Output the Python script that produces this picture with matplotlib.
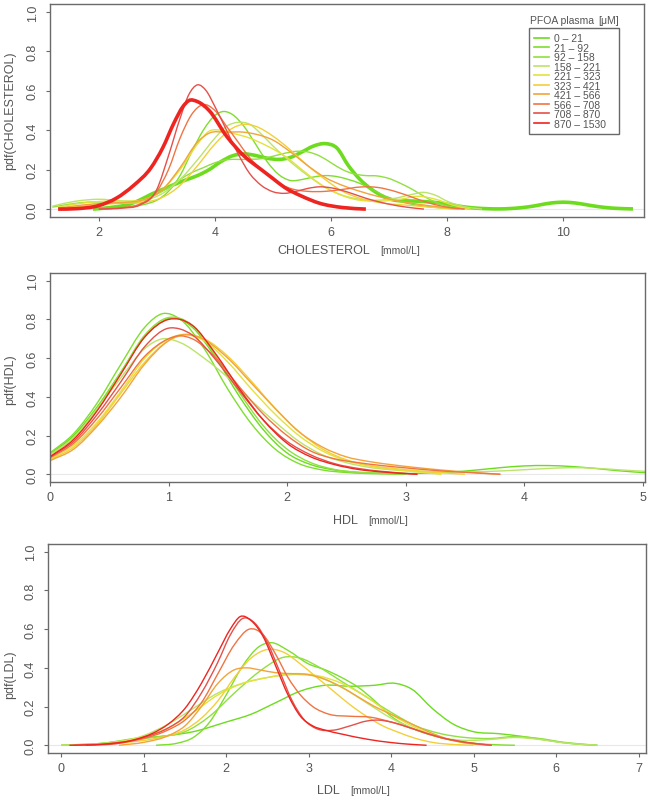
import numpy as np
import matplotlib
matplotlib.use("Agg")
from matplotlib import pyplot as plt
from matplotlib.lines import Line2D
from matplotlib.path import Path
from matplotlib.patches import PathPatch

plt.rcParams["font.family"] = ["Liberation Sans", "DejaVu Sans"]

# PFOA plasma groups and their colours (green -> red)
groups = ["0 – 21", "21 – 92", "92 – 158", "158 – 221", "221 – 323",
          "323 – 421", "421 – 566", "566 – 708", "708 – 870", "870 – 1530"]
colors = ["#6ddc1e", "#7ede2e", "#8fe040", "#bde36a", "#e4e23a",
          "#f2d038", "#f2a33a", "#f07443", "#e4504a", "#ee2420"]

# density curves, (x, pdf) per group
chol_curves = [
    [(1.9, 0), (2.1, .005), (2.3, .012), (2.5, .022), (2.7, .045), (2.9, .075), (3.1, .1), (3.3, .125),
     (3.5, .148), (3.7, .17), (3.9, .2), (4.1, .24), (4.3, .27), (4.5, .28), (4.7, .272), (4.9, .258),
     (5.1, .252), (5.3, .262), (5.5, .29), (5.7, .32), (5.9, .332), (6.1, .31), (6.3, .22), (6.5, .15),
     (6.7, .1), (6.9, .064), (7.1, .045), (7.3, .042), (7.5, .04), (7.7, .036), (7.9, .03), (8.1, .02),
     (8.3, .011), (8.5, .005), (8.7, .002), (8.9, .001), (9.1, .003), (9.3, .008), (9.5, .016), (9.7, .027),
     (9.9, .034), (10.1, .034), (10.3, .027), (10.5, .017), (10.7, .009), (10.9, .004), (11.2, .001)],
    [(1.9, 0), (2.2, .003), (2.5, .01), (2.8, .025), (3.0, .045), (3.2, .09), (3.4, .17), (3.6, .29),
     (3.8, .4), (4.0, .475), (4.15, .495), (4.3, .48), (4.5, .42), (4.7, .33), (4.9, .24), (5.1, .175),
     (5.3, .145), (5.5, .15), (5.7, .163), (5.9, .17), (6.1, .165), (6.3, .15), (6.5, .13), (6.7, .1),
     (6.9, .07), (7.1, .045), (7.3, .03), (7.6, .015), (7.9, .006), (8.2, 0)],
    [(1.2, .01), (1.5, .025), (1.8, .035), (2.1, .035), (2.4, .03), (2.7, .04), (3.0, .075), (3.2, .11),
     (3.4, .15), (3.6, .185), (3.8, .21), (4.0, .235), (4.2, .25), (4.5, .252), (4.8, .256), (5.0, .268),
     (5.2, .283), (5.4, .293), (5.6, .29), (5.8, .27), (6.0, .235), (6.2, .2), (6.4, .178), (6.6, .17),
     (6.8, .168), (7.0, .155), (7.2, .13), (7.4, .1), (7.6, .065), (7.8, .035), (8.0, .015), (8.4, 0)],
    [(1.2, .015), (1.6, .04), (2.0, .05), (2.4, .042), (2.8, .045), (3.1, .08), (3.4, .15), (3.7, .25),
     (4.0, .36), (4.2, .42), (4.4, .44), (4.6, .43), (4.8, .38), (5.0, .32), (5.3, .24), (5.6, .17),
     (5.9, .11), (6.2, .07), (6.5, .05), (6.8, .045), (7.1, .055), (7.4, .075), (7.6, .085), (7.8, .07),
     (8.0, .04), (8.3, .012), (8.6, 0)],
    [(1.3, .01), (1.7, .03), (2.1, .04), (2.5, .04), (2.8, .05), (3.1, .1), (3.4, .2), (3.7, .33),
     (3.9, .395), (4.1, .4), (4.3, .385), (4.6, .36), (4.9, .32), (5.2, .27), (5.5, .2), (5.8, .13),
     (6.1, .08), (6.4, .05), (6.8, .04), (7.2, .05), (7.5, .065), (7.8, .05), (8.1, .02), (8.4, 0)],
    [(1.4, .005), (1.9, .02), (2.4, .03), (2.8, .035), (3.1, .06), (3.4, .12), (3.7, .22), (4.0, .33),
     (4.3, .41), (4.5, .43), (4.7, .42), (5.0, .37), (5.3, .3), (5.6, .22), (5.9, .15), (6.2, .09),
     (6.5, .055), (6.9, .03), (7.3, .02), (7.8, .008), (8.2, 0)],
    [(1.3, .005), (1.7, .02), (2.1, .03), (2.5, .035), (2.8, .05), (3.1, .1), (3.4, .21), (3.7, .34),
     (3.9, .385), (4.2, .39), (4.5, .39), (4.7, .38), (5.0, .35), (5.3, .29), (5.6, .22), (5.9, .16),
     (6.2, .12), (6.5, .09), (6.8, .065), (7.1, .045), (7.5, .025), (7.9, .01), (8.3, 0)],
    [(2.0, 0), (2.4, .008), (2.7, .025), (3.0, .09), (3.2, .2), (3.4, .36), (3.6, .48), (3.8, .53),
     (4.0, .5), (4.2, .42), (4.4, .34), (4.6, .26), (4.8, .2), (5.0, .15), (5.3, .105), (5.6, .09),
     (5.9, .09), (6.2, .1), (6.5, .112), (6.8, .11), (7.1, .09), (7.4, .06), (7.7, .03), (8.0, .01), (8.3, 0)],
    [(2.0, 0), (2.4, .005), (2.7, .02), (3.0, .1), (3.2, .27), (3.4, .46), (3.55, .58), (3.7, .63),
     (3.85, .6), (4.0, .52), (4.2, .4), (4.4, .28), (4.6, .18), (4.8, .12), (5.0, .088), (5.2, .08),
     (5.4, .09), (5.6, .105), (5.8, .113), (6.0, .108), (6.3, .085), (6.6, .055), (7.0, .025), (7.3, .01), (7.6, 0)],
    [(1.3, 0), (1.6, .002), (2.0, .018), (2.3, .055), (2.6, .12), (2.9, .21), (3.1, .31), (3.3, .44),
     (3.45, .52), (3.55, .55), (3.7, .545), (3.9, .5), (4.2, .37), (4.5, .27), (4.8, .2), (5.0, .155),
     (5.2, .11), (5.5, .065), (5.8, .03), (6.2, .008), (6.6, 0)],
]

hdl_curves = [
    [(0, .105), (0.2, .2), (0.4, .35), (0.6, .53), (0.8, .71), (0.9, .77), (1.0, .805), (1.1, .8), (1.2, .76),
     (1.4, .6), (1.6, .4), (1.8, .23), (2.0, .11), (2.2, .05), (2.4, .022), (2.6, .01), (2.8, .006), (3.0, .004),
     (3.2, .006), (3.4, .012), (3.6, .022), (3.8, .034), (4.0, .043), (4.2, .045), (4.4, .04), (4.6, .03),
     (4.8, .018), (5.02, .008)],
    [(0, .11), (0.2, .21), (0.4, .37), (0.6, .57), (0.8, .76), (0.95, .83), (1.1, .8), (1.3, .65), (1.5, .44),
     (1.7, .26), (1.9, .13), (2.1, .055), (2.3, .022), (2.5, .009), (2.8, .002), (3.0, 0)],
    [(0, .1), (0.2, .19), (0.4, .34), (0.6, .53), (0.8, .72), (1.0, .81), (1.1, .805), (1.2, .77), (1.4, .61),
     (1.6, .42), (1.8, .25), (2.0, .13), (2.2, .06), (2.4, .025), (2.6, .01), (2.8, .004), (3.0, 0)],
    [(0, .1), (0.2, .19), (0.4, .34), (0.6, .5), (0.8, .65), (0.95, .7), (1.1, .68), (1.3, .6), (1.5, .5),
     (1.7, .38), (1.9, .27), (2.1, .17), (2.3, .1), (2.5, .06), (2.7, .035), (2.9, .022), (3.1, .016),
     (3.3, .013), (3.6, .013), (3.9, .02), (4.2, .03), (4.4, .034), (4.6, .031), (4.8, .023), (5.02, .015)],
    [(0, .08), (0.2, .15), (0.4, .27), (0.6, .43), (0.8, .6), (1.0, .7), (1.1, .72), (1.3, .69), (1.5, .58),
     (1.7, .44), (1.9, .31), (2.1, .2), (2.3, .12), (2.5, .07), (2.7, .042), (2.9, .025), (3.1, .012), (3.3, 0)],
    [(0, .075), (0.2, .14), (0.4, .26), (0.6, .42), (0.8, .58), (1.0, .69), (1.15, .72), (1.3, .7), (1.5, .61),
     (1.7, .48), (1.9, .34), (2.1, .22), (2.3, .13), (2.5, .075), (2.7, .045), (2.9, .03), (3.1, .018),
     (3.3, .008), (3.5, 0)],
    [(0, .07), (0.2, .13), (0.4, .25), (0.6, .4), (0.8, .57), (1.0, .69), (1.1, .72), (1.25, .71), (1.5, .6),
     (1.7, .47), (1.9, .34), (2.1, .22), (2.3, .14), (2.5, .09), (2.7, .065), (2.9, .048), (3.1, .034),
     (3.3, .022), (3.5, .012), (3.8, 0)],
    [(0, .085), (0.2, .16), (0.4, .29), (0.6, .45), (0.8, .61), (1.0, .7), (1.08, .715), (1.2, .7), (1.4, .6),
     (1.6, .45), (1.8, .31), (2.0, .2), (2.2, .12), (2.4, .08), (2.6, .06), (2.8, .045), (3.0, .033),
     (3.2, .022), (3.5, .01), (3.8, 0)],
    [(0, .09), (0.2, .17), (0.4, .31), (0.6, .48), (0.8, .66), (1.0, .755), (1.1, .75), (1.2, .72), (1.4, .59),
     (1.6, .43), (1.8, .28), (2.0, .17), (2.2, .1), (2.4, .055), (2.6, .03), (2.8, .015), (3.1, 0)],
    [(0, .09), (0.2, .18), (0.4, .33), (0.6, .52), (0.8, .71), (1.0, .8), (1.1, .8), (1.2, .77), (1.4, .62),
     (1.6, .44), (1.8, .28), (2.0, .16), (2.2, .09), (2.4, .05), (2.6, .025), (2.8, .012), (3.1, 0)],
]

ldl_curves = [
    [(0, 0), (0.5, .01), (0.9, .035), (1.3, .05), (1.6, .07), (2.0, .12), (2.3, .16), (2.6, .22), (2.9, .28),
     (3.2, .31), (3.5, .305), (3.8, .31), (4.05, .32), (4.25, .29), (4.5, .19), (4.75, .11), (5.0, .07),
     (5.3, .06), (5.6, .045), (5.9, .025), (6.2, .008), (6.5, 0)],
    [(1.15, 0), (1.4, .01), (1.6, .04), (1.8, .12), (2.0, .26), (2.2, .41), (2.4, .51), (2.55, .53), (2.75, .49),
     (3.0, .42), (3.2, .39), (3.4, .35), (3.6, .3), (3.8, .23), (4.0, .15), (4.3, .08), (4.6, .04), (4.9, .015),
     (5.2, .004), (5.5, 0)],
    [(0, 0), (0.5, .01), (0.9, .03), (1.2, .045), (1.5, .07), (1.8, .15), (2.1, .27), (2.4, .38), (2.7, .455),
     (2.9, .45), (3.1, .41), (3.4, .33), (3.7, .25), (4.0, .17), (4.3, .1), (4.6, .06), (4.9, .04), (5.2, .035),
     (5.5, .045), (5.8, .035), (6.1, .015), (6.5, 0)],
    [(0, 0), (0.5, .01), (1.0, .05), (1.3, .11), (1.6, .19), (1.9, .27), (2.2, .32), (2.5, .35), (2.8, .365),
     (3.1, .355), (3.4, .3), (3.7, .22), (4.0, .14), (4.3, .08), (4.6, .04), (4.9, .025), (5.2, .03), (5.5, .04),
     (5.8, .03), (6.1, .012), (6.5, 0)],
    [(0.2, 0), (0.6, .01), (1.0, .045), (1.3, .09), (1.6, .17), (1.9, .26), (2.2, .32), (2.5, .35), (2.8, .37),
     (3.1, .36), (3.4, .32), (3.7, .25), (4.0, .16), (4.3, .09), (4.6, .04), (4.9, .012), (5.2, 0)],
    [(0.3, 0), (0.8, .015), (1.2, .04), (1.5, .08), (1.7, .14), (1.9, .23), (2.1, .35), (2.3, .45), (2.5, .495),
     (2.7, .48), (2.9, .42), (3.1, .35), (3.3, .28), (3.5, .21), (3.7, .15), (3.9, .1), (4.1, .065), (4.3, .035),
     (4.5, .015), (4.8, .003), (5.0, 0)],
    [(0.7, 0), (1.0, .015), (1.3, .05), (1.5, .1), (1.7, .2), (1.9, .32), (2.1, .39), (2.25, .4), (2.4, .39),
     (2.6, .375), (2.8, .37), (3.0, .365), (3.2, .34), (3.4, .3), (3.6, .25), (3.8, .2), (4.0, .16), (4.2, .12),
     (4.4, .08), (4.6, .045), (4.8, .02), (5.0, .007), (5.2, 0)],
    [(0.15, 0), (0.6, .01), (1.0, .035), (1.3, .08), (1.5, .13), (1.7, .22), (1.9, .37), (2.1, .52), (2.28, .6),
     (2.45, .57), (2.6, .47), (2.75, .35), (2.9, .26), (3.05, .2), (3.25, .16), (3.5, .15), (3.75, .145),
     (4.0, .12), (4.3, .08), (4.6, .04), (4.9, .015), (5.22, 0)],
    [(0.3, 0), (0.7, .01), (1.0, .04), (1.3, .09), (1.5, .15), (1.7, .27), (1.9, .43), (2.05, .57), (2.2, .655),
     (2.35, .63), (2.5, .53), (2.65, .38), (2.8, .23), (2.95, .13), (3.1, .085), (3.3, .078), (3.5, .1),
     (3.7, .125), (3.85, .13), (4.0, .12), (4.3, .08), (4.6, .04), (5.0, .01), (5.22, 0)],
    [(0.1, 0), (0.5, .005), (0.9, .03), (1.1, .06), (1.3, .11), (1.5, .19), (1.7, .32), (1.9, .48), (2.05, .6),
     (2.17, .665), (2.3, .645), (2.45, .56), (2.6, .41), (2.75, .26), (2.9, .15), (3.05, .1), (3.2, .078),
     (3.4, .058), (3.7, .032), (4.0, .014), (4.2, .006), (4.43, 0)],
]

yticks = [0.0, 0.2, 0.4, 0.6, 0.8, 1.0]
chol_xticks = [2, 4, 6, 8, 10]
hdl_xticks = [0, 1, 2, 3, 4, 5]
ldl_xticks = [0, 1, 2, 3, 4, 5, 6, 7]

W, H = 650, 803
GREY = "#555555"


def px(x, y):
    return x / W, 1 - y / H


def rect(left, top, right, bottom):
    return [left / W, 1 - bottom / H, (right - left) / W, (bottom - top) / H]


def smooth_path(pts):
    # cubic Hermite segments through the read points, drawn as a bezier path
    x = np.array([p[0] for p in pts], float)
    y = np.array([p[1] for p in pts], float)
    m = np.gradient(y, x)
    verts = [(x[0], y[0])]
    codes = [Path.MOVETO]
    for i in range(len(x) - 1):
        h = x[i + 1] - x[i]
        verts += [(x[i] + h / 3, y[i] + m[i] * h / 3),
                  (x[i + 1] - h / 3, y[i + 1] - m[i + 1] * h / 3),
                  (x[i + 1], y[i + 1])]
        codes += [Path.CURVE4] * 3
    return Path(verts, codes)


fig = plt.figure(figsize=(6.5, 8.03), dpi=100)


def panel(r, curves, xlim, xticks, thick):
    ax = fig.add_axes(r)
    ax.axhline(0, color="#e8e8e8", lw=0.8, zorder=0)
    for i, pts in enumerate(curves):
        lw = 2.6 if i in thick else 1.0
        ax.add_patch(PathPatch(smooth_path(pts), fill=False, edgecolor=colors[i], lw=lw,
                               capstyle="butt", joinstyle="round"))
    ax.set_xlim(*xlim)
    ax.set_ylim(-0.04, 1.04)
    ax.set_xticks(xticks)
    ax.set_yticks(yticks)
    ax.set_yticklabels([f"{v:.1f}" for v in yticks])
    for s in ax.spines.values():
        s.set_color("#6a6a6a")
        s.set_linewidth(1.0)
    ax.tick_params(direction="out", length=3.2, width=0.8, color="#6a6a6a",
                   labelsize=9, labelcolor=GREY)
    ax.tick_params(axis="x", pad=3)
    ax.tick_params(axis="y", pad=5)
    for lab in ax.get_yticklabels():
        lab.set_rotation(90)
        lab.set_va("center")
    return ax


ax1 = panel(rect(50, 5, 644, 218), chol_curves, (1.16, 11.39), chol_xticks, thick=(0, 9))
ax2 = panel(rect(50, 274, 645, 483), hdl_curves, (0, 5.02), hdl_xticks, thick=())
ax3 = panel(rect(48, 545, 646, 754), ldl_curves, (-0.16, 7.09), ldl_xticks, thick=())

# axis labels
for name, xr, yl, ylab, ylab_y in [("CHOLESTEROL", 370, 251, "pdf(CHOLESTEROL)", 111),
                                   ("HDL", 358, 521, "pdf(HDL)", 380),
                                   ("LDL", 340, 791, "pdf(LDL)", 675)]:
    fig.text(*px(xr, yl), name, ha="right", va="center", fontsize=9, color=GREY)
    fig.text(*px(xr + 10, yl), "[mmol/L]", ha="left", va="center", fontsize=7.5, color=GREY)
    fig.text(*px(10, ylab_y), ylab, ha="center", va="center", rotation=90, fontsize=9, color=GREY)

# legend
fig.text(*px(530, 21), "PFOA plasma", ha="left", va="center", fontsize=7.5, color=GREY)
fig.text(*px(598, 21), "[μM]", ha="left", va="center", fontsize=7.5, color=GREY)
handles = [Line2D([], [], color=c, lw=1.2) for c in colors]
lx, ly = px(529, 29)
leg = ax1.legend(handles, groups, loc="upper left", bbox_to_anchor=(lx, ly - 101 / H, 90 / W, 101 / H),
                 bbox_transform=fig.transFigure, mode="expand", borderaxespad=0, fontsize=7.5,
                 frameon=True, fancybox=False, edgecolor="#444444", handlelength=1.4,
                 handletextpad=0.5, labelspacing=-0.05, borderpad=0.5)
leg.get_frame().set_linewidth(1.0)
for t in leg.get_texts():
    t.set_color(GREY)

fig.savefig("out.png", dpi=100, facecolor="white")
